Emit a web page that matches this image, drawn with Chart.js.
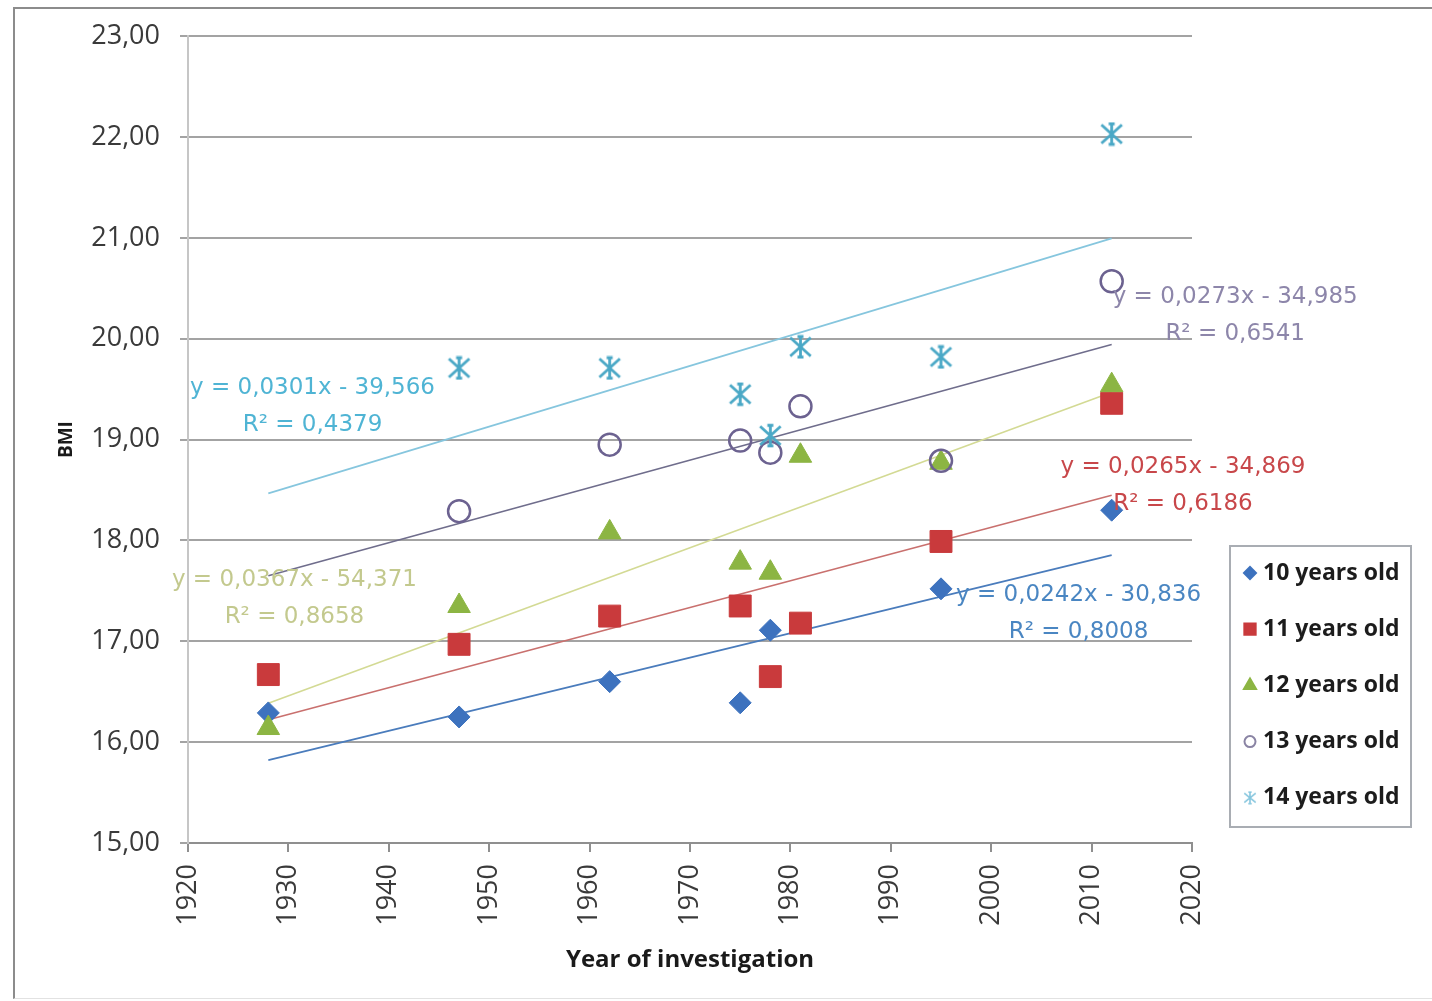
<!DOCTYPE html>
<html>
<head>
<meta charset="utf-8">
<title>BMI by year of investigation</title>
<script src="https://cdn.jsdelivr.net/npm/chart.js@4.4.1/dist/chart.umd.min.js"></script>
<style>
  html, body { margin: 0; padding: 0; background: #fff; }
  #wrap { position: relative; width: 1432px; height: 1001px; overflow: hidden; }
  #frame { position: absolute; left: 13px; top: 7px; width: 1440px; height: 989px;
           border-left: 2px solid #8c8c8c; border-top: 2px solid #8c8c8c; border-bottom: 1px solid #e2e2e2; }
  #c { position: absolute; left: 0; top: 0; }
</style>
</head>
<body>
<div id="wrap">
  <div id="frame"></div>
  <canvas id="c" width="1432" height="1001"></canvas>
</div>
<script>
// Mean BMI per survey year, one series per age group
const seriesLabels = ['10 years old', '11 years old', '12 years old', '13 years old', '14 years old'];

const years10 = [1928, 1947, 1962, 1975, 1978, 1995, 2012];
const bmi10   = [16.29, 16.25, 16.60, 16.39, 17.11, 17.52, 18.30];

const years11 = [1928, 1947, 1962, 1975, 1978, 1981, 1995, 2012];
const bmi11   = [16.67, 16.97, 17.25, 17.35, 16.65, 17.18, 17.99, 19.36];

const years12 = [1928, 1947, 1962, 1975, 1978, 1981, 1995, 2012];
const bmi12   = [16.14, 17.35, 18.08, 17.78, 17.68, 18.84, 18.77, 19.54];

const years13 = [1947, 1962, 1975, 1978, 1981, 1995, 2012];
const bmi13   = [18.29, 18.95, 18.99, 18.87, 19.33, 18.79, 20.57];

const years14 = [1947, 1962, 1975, 1978, 1981, 1995, 2012];
const bmi14   = [19.71, 19.71, 19.45, 19.04, 19.92, 19.82, 22.03];

// Linear trend lines (y = slope * year + intercept) and their R²
const trendSlopes     = [0.0242, 0.0265, 0.0367, 0.0273, 0.0301];
const trendIntercepts = [-30.836, -34.869, -54.371, -34.985, -39.566];
const trendR2         = ['0,8008', '0,6186', '0,8658', '0,6541', '0,4379'];
const trendRange      = [1928, 2012];

// Where each trend equation is written (centre of its first line, in data units)
const eqLabelYears = [2008.7, 2019.1, 1930.6, 2024.3, 1932.4];
const eqLabelBmi   = [17.46, 18.73, 17.61, 20.41, 19.51];

// Axis ticks
const xTickMin = 1920, xTickMax = 2020, xTickStep = 10;
const yTickMin = 15, yTickMax = 23, yTickStep = 1;

const allYears = [years10, years11, years12, years13, years14];
const allBmi   = [bmi10, bmi11, bmi12, bmi13, bmi14];

const markerFill   = ['#3d72be', '#c93a3c', '#8cb543', 'rgba(0,0,0,0)', '#4aa8c6'];
const markerStroke = ['#3d72be', '#c93a3c', '#8cb543', '#6c6290', '#4aa8c6'];
const trendColors  = ['#4a7cbc', '#c9706e', '#d3da94', '#6f6d8c', '#86c6de'];
const eqColors     = ['#4a86c2', '#c8474a', '#c3c98e', '#8d86aa', '#4fb4d4'];

// Asterisk marker drawn onto a small canvas
function makeAsterisk(size, color, lw) {
  const c = document.createElement('canvas');
  c.width = size; c.height = size;
  const g = c.getContext('2d');
  g.strokeStyle = color;
  g.lineWidth = lw;
  const m = lw * 0.8;
  g.beginPath();
  g.moveTo(m, m + 1); g.lineTo(size - m, size - m - 1);
  g.moveTo(size - m, m + 1); g.lineTo(m, size - m - 1);
  g.moveTo(size / 2, m); g.lineTo(size / 2, size - m);
  g.moveTo(size * 0.38, m); g.lineTo(size * 0.62, m);
  g.moveTo(size * 0.38, size - m); g.lineTo(size * 0.62, size - m);
  g.stroke();
  return c;
}
const asteriskBig = makeAsterisk(25, '#4aa8c6', 2.8);
const asteriskSmall = makeAsterisk(14, '#86c6de', 1.6);

const pointStyles = ['rectRot', 'rect', 'triangle', 'circle', asteriskBig];
const pointRadii  = [11, 15.5, 13, 11, 12];
const pointBorder = [1, 1, 1, 2.5, 1];

const legendStyles = ['rectRot', 'rect', 'triangle', 'circle', asteriskSmall];
const legendRadii  = [6, 8, 7, 5.5, 7];

const fmt = (v, d) => v.toFixed(d).replace('.', ',');

const datasets = [];
seriesLabels.forEach((label, i) => {
  datasets.push({
    label,
    data: allYears[i].map((yr, k) => ({ x: yr, y: allBmi[i][k] })),
    pointStyle: pointStyles[i],
    pointRadius: pointRadii[i],
    pointHoverRadius: pointRadii[i],
    pointBackgroundColor: markerFill[i],
    pointBorderColor: markerStroke[i],
    pointBorderWidth: pointBorder[i],
    backgroundColor: markerFill[i],
    borderColor: markerStroke[i],
    showLine: false,
    order: 10 - i
  });
});
seriesLabels.forEach((label, i) => {
  datasets.push({
    label: 'trend ' + label,
    data: trendRange.map(yr => ({ x: yr, y: trendSlopes[i] * yr + trendIntercepts[i] })),
    showLine: true,
    borderColor: trendColors[i],
    borderWidth: 1.6,
    pointRadius: 0,
    fill: false,
    order: 20
  });
});

// Trend-line equations and R² written next to their lines
const equationLabels = {
  id: 'equationLabels',
  afterDatasetsDraw(chart) {
    const { ctx, scales: { x, y } } = chart;
    ctx.save();
    ctx.font = '23px "DejaVu Sans"';
    ctx.textAlign = 'center';
    ctx.textBaseline = 'middle';
    for (let i = 0; i < seriesLabels.length; i++) {
      const px = x.getPixelForValue(eqLabelYears[i]);
      const py = y.getPixelForValue(eqLabelBmi[i]);
      const b = trendIntercepts[i];
      const eq = 'y = ' + fmt(trendSlopes[i], 4) + 'x ' + (b < 0 ? '- ' : '+ ') + fmt(Math.abs(b), 3);
      ctx.fillStyle = eqColors[i];
      ctx.fillText(eq, px, py);
      ctx.fillText('R² = ' + trendR2[i], px, py + 37);
    }
    ctx.restore();
  }
};

// Boxed legend to the right of the plot
const boxedLegend = {
  id: 'boxedLegend',
  afterDraw(chart) {
    const { ctx, chartArea } = chart;
    const left = chartArea.right + 38, top = 546, w = 181, h = 281;
    ctx.save();
    ctx.strokeStyle = '#a9adb3';
    ctx.lineWidth = 2;
    ctx.strokeRect(left, top, w, h);
    ctx.font = 'bold 23px "Open Sans"';
    ctx.textAlign = 'left';
    ctx.textBaseline = 'middle';
    seriesLabels.forEach((label, i) => {
      const cy = top + 27 + i * 56.2;
      const mx = left + 20;
      ctx.fillStyle = markerFill[i];
      ctx.strokeStyle = markerStroke[i];
      if (i === 3) ctx.strokeStyle = '#8a84a4';
      Chart.helpers.drawPoint(ctx, {
        pointStyle: legendStyles[i], radius: legendRadii[i], rotation: 0,
        borderWidth: i === 3 ? 1.5 : 1
      }, mx, cy);
      ctx.fillStyle = '#1c1c1c';
      ctx.fillText(label, left + 33, cy);
    });
    ctx.restore();
  }
};

new Chart(document.getElementById('c'), {
  type: 'scatter',
  data: { datasets },
  options: {
    responsive: false,
    animation: false,
    events: [],
    layout: { padding: { top: 36, right: 240, left: 0, bottom: 0 } },
    plugins: {
      legend: { display: false },
      tooltip: { enabled: false },
      title: { display: false }
    },
    scales: {
      x: {
        type: 'linear',
        min: xTickMin, max: xTickMax,
        ticks: {
          stepSize: xTickStep,
          minRotation: 90, maxRotation: 90,
          padding: 12,
          color: '#3a3a3a',
          font: { family: 'Open Sans', size: 27 },
          callback: v => String(v)
        },
        grid: { drawOnChartArea: false, drawTicks: true, tickLength: 9, color: '#8f8f8f', lineWidth: 2 },
        border: { color: '#8f8f8f', width: 2 },
        title: {
          display: true, text: 'Year of investigation', color: '#1a1a1a',
          font: { family: 'Open Sans', size: 24, weight: 'bold' },
          padding: { top: 0, bottom: 26 }
        },
        afterFit: s => { s.height = 158; }
      },
      y: {
        type: 'linear',
        min: yTickMin, max: yTickMax,
        ticks: {
          stepSize: yTickStep,
          padding: 20,
          color: '#3a3a3a',
          font: { family: 'Open Sans', size: 27 },
          callback: v => fmt(v, 2)
        },
        grid: { color: '#a3a3a3', lineWidth: 2, tickLength: 8 },
        border: { color: '#c6c6c6', width: 2 },
        title: {
          display: true, text: 'BMI', color: '#1a1a1a',
          font: { family: 'Open Sans', size: 19, weight: 'bold' },
          padding: { top: 55, bottom: 0 }
        },
        afterFit: s => { s.width = 188; }
      }
    }
  },
  plugins: [equationLabels, boxedLegend]
});
</script>
</body>
</html>
